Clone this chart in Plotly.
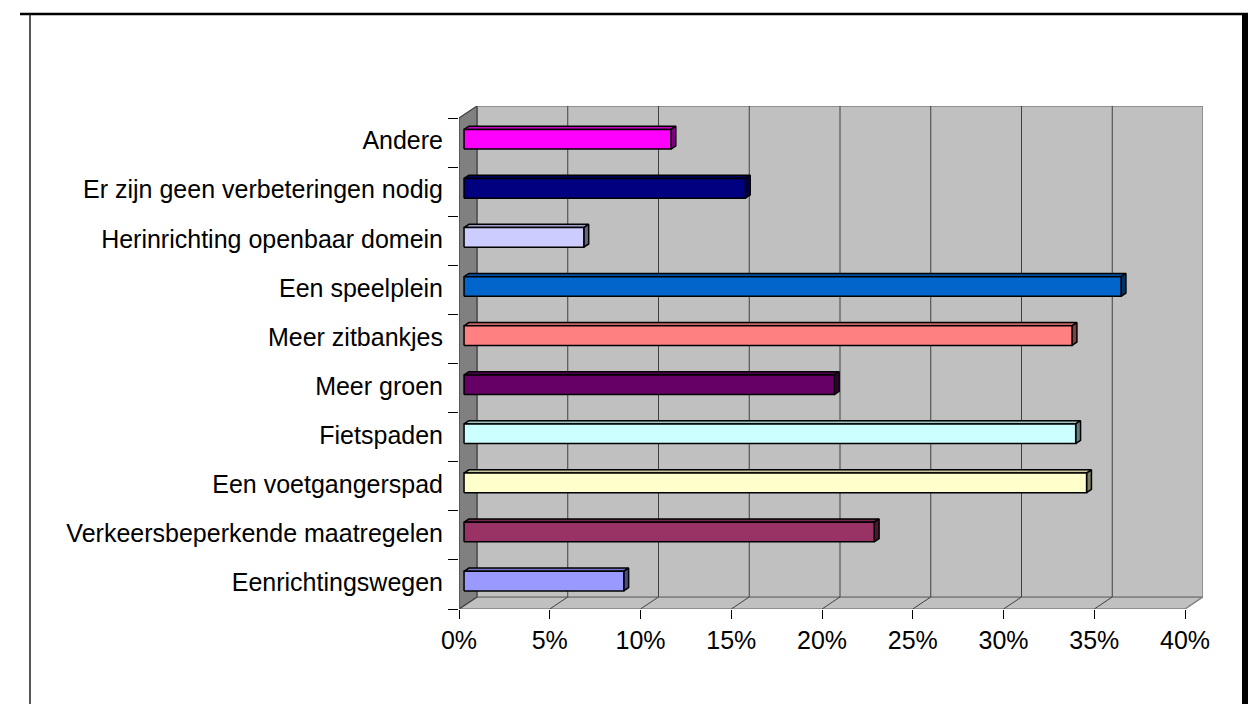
import plotly.graph_objects as go

# ---- data (bottom to top, as in the chart) ----
categories = [
    "Eenrichtingswegen",
    "Verkeersbeperkende maatregelen",
    "Een voetgangerspad",
    "Fietspaden",
    "Meer groen",
    "Meer zitbankjes",
    "Een speelplein",
    "Herinrichting openbaar domein",
    "Er zijn geen verbeteringen nodig",
    "Andere",
]
values = [8.8, 22.6, 34.3, 33.7, 20.4, 33.5, 36.2, 6.6, 15.5, 11.4]
bar_colors = ["#9999FF", "#993366", "#FFFFCC", "#CCFFFF", "#660066",
              "#FF8080", "#0066CC", "#CCCCFF", "#000080", "#FF00FF"]
x_ticks = [0, 5, 10, 15, 20, 25, 30, 35, 40]
x_tick_labels = ["0%", "5%", "10%", "15%", "20%", "25%", "30%", "35%", "40%"]

# ---- geometry / style ----
W, H = 1258, 704
ML, MR, MT, MB = 459, 55, 106, 95
XMAX = x_ticks[-1]
DX = 0.992      # 3D depth in x data units
DY = 0.245      # 3D depth in y data units
BAR_W = 0.4
F1, F2 = 0.28, 0.55
N = len(categories)
FONT = "Liberation Sans, Arial, sans-serif"


def shade(hx, f):
    hx = hx.lstrip("#")
    r, g, b = (int(hx[i:i + 2], 16) for i in (0, 2, 4))
    return "rgb(%d,%d,%d)" % (r * f, g * f, b * f)


fig = go.Figure()

# bars as 3D boxes
for i, (v, c) in enumerate(zip(values, bar_colors)):
    y0, y1 = i - BAR_W / 2, i + BAR_W / 2
    a, b = F1 * DX, F2 * DX
    p, q = F1 * DY, F2 * DY
    faces = [
        ([a, v + a, v + b, b, a], [y1 + p, y1 + p, y1 + q, y1 + q, y1 + p], shade(c, 0.78)),
        ([v + a, v + b, v + b, v + a, v + a], [y0 + p, y0 + q, y1 + q, y1 + p, y0 + p], shade(c, 0.5)),
        ([a, v + a, v + a, a, a], [y0 + p, y0 + p, y1 + p, y1 + p, y0 + p], c),
    ]
    for fx, fy, fc in faces:
        fig.add_trace(go.Scatter(
            x=fx, y=fy, mode="lines", fill="toself", fillcolor=fc,
            line=dict(color="black", width=1.5), hoverinfo="skip", showlegend=False,
        ))

shapes = []
top = N - 0.5
# floor
shapes.append(dict(type="path", xref="x", yref="y", layer="below",
                   path=f"M 0 -0.5 L {XMAX} -0.5 L {XMAX + DX} {-0.5 + DY} L {DX} {-0.5 + DY} Z",
                   fillcolor="#C0C0C0", line=dict(color="#808080", width=1.5)))
# back wall
shapes.append(dict(type="rect", xref="x", yref="y", layer="below",
                   x0=DX, x1=XMAX + DX, y0=-0.5 + DY, y1=top + DY,
                   fillcolor="#C0C0C0", line=dict(color="#808080", width=1.5)))
# left side wall
shapes.append(dict(type="path", xref="x", yref="y", layer="below",
                   path=f"M 0 -0.5 L 0 {top} L {DX} {top + DY} L {DX} {-0.5 + DY} Z",
                   fillcolor="#808080", line=dict(color="#404040", width=1.2)))
# gridlines on back wall
for t in x_ticks[1:-1]:
    shapes.append(dict(type="line", xref="x", yref="y", layer="below",
                       x0=t + DX, x1=t + DX, y0=-0.5 + DY, y1=top + DY,
                       line=dict(color="#404040", width=1)))
# floor diagonals
for t in x_ticks[1:-1]:
    shapes.append(dict(type="line", xref="x", yref="y", layer="below",
                       x0=t, x1=t + DX, y0=-0.5, y1=-0.5 + DY,
                       line=dict(color="#404040", width=1)))


# outer frame lines (paper coords from pixels)
def px_x(p):
    return (p - ML) / (W - ML - MR)


def px_y(p):
    return (H - MB - p) / (H - MT - MB)


shapes.append(dict(type="line", xref="paper", yref="paper",
                   x0=px_x(20), x1=px_x(1248), y0=px_y(14), y1=px_y(14),
                   line=dict(color="black", width=2.5)))
shapes.append(dict(type="line", xref="paper", yref="paper",
                   x0=px_x(30), x1=px_x(30), y0=px_y(14), y1=px_y(704),
                   line=dict(color="#202020", width=1.5)))
shapes.append(dict(type="line", xref="paper", yref="paper",
                   x0=px_x(1245), x1=px_x(1245), y0=px_y(13), y1=px_y(704),
                   line=dict(color="black", width=6)))

fig.update_layout(
    width=W, height=H,
    margin=dict(l=ML, r=MR, t=MT, b=MB, pad=0),
    plot_bgcolor="white", paper_bgcolor="white",
    shapes=shapes,
    showlegend=False,
    xaxis=dict(range=[0, XMAX + DX], tickmode="array", tickvals=x_ticks, ticktext=x_tick_labels,
               ticks="outside", ticklen=9, tickcolor="black", tickwidth=1,
               showgrid=False, zeroline=False, showline=False,
               tickfont=dict(family=FONT, size=25, color="black"), fixedrange=True),
    yaxis=dict(range=[-0.5, top + DY], tickmode="array",
               tickvals=[i + 0.04 for i in range(N)], ticktext=categories,
               ticks="outside", ticklen=10, tickcolor="rgba(0,0,0,0)",
               minor=dict(tickmode="array", tickvals=[k - 0.5 for k in range(N + 1)],
                          ticks="outside", ticklen=10, tickcolor="black", tickwidth=1,
                          showgrid=False),
               showgrid=False, zeroline=False, showline=False,
               tickfont=dict(family=FONT, size=25, color="black"), fixedrange=True),
)

fig.write_html("out.html", config={"displayModeBar": False},
               post_script="document.body.style.margin='0';document.body.style.overflow='hidden';")
